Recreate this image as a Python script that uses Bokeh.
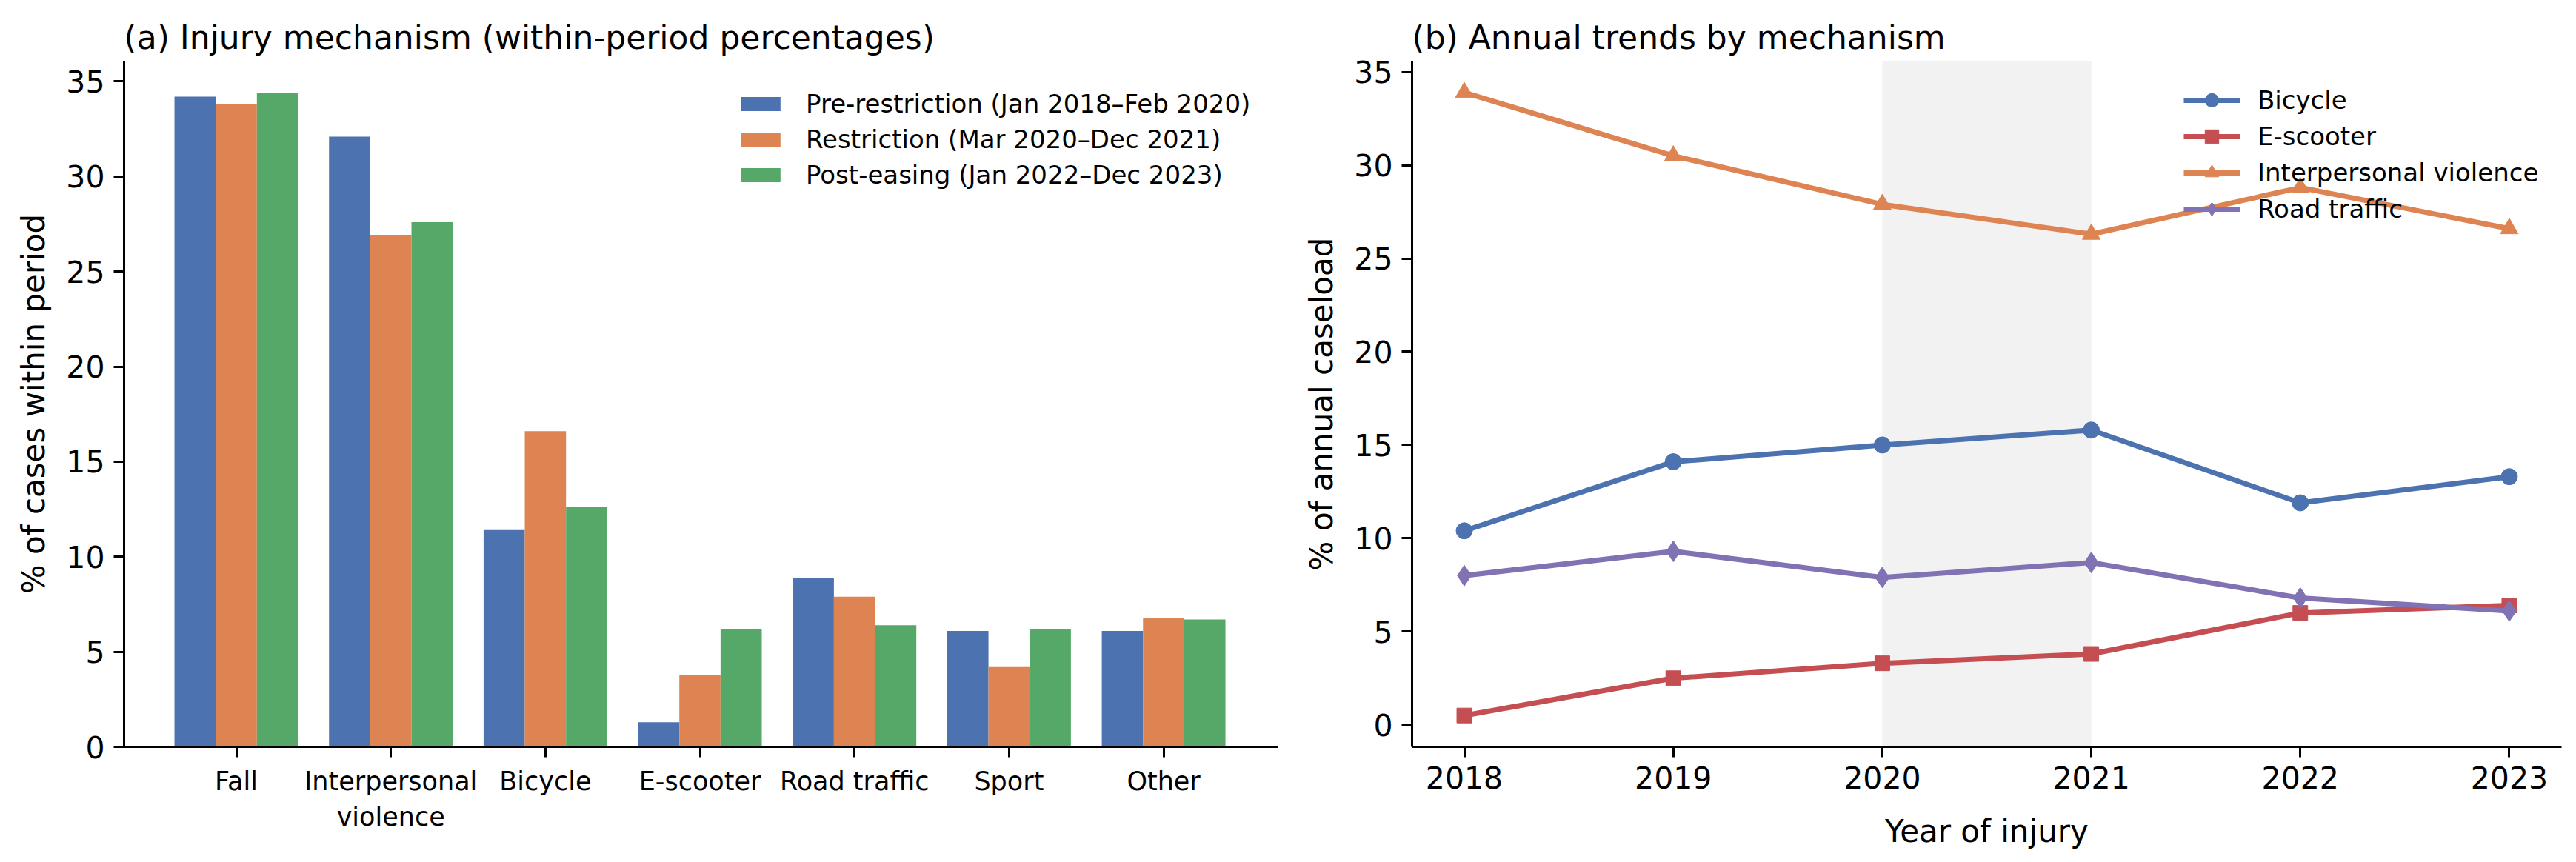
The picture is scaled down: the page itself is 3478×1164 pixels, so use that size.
from bokeh.plotting import figure
from bokeh.models import ColumnDataSource, Range1d, FixedTicker, BoxAnnotation
from bokeh.transform import dodge
from bokeh.layouts import row
from bokeh.embed import file_html
from bokeh.resources import INLINE

# panel (a): share of cases within each period (%)
mechanisms = ["Fall", "Interpersonal\nviolence", "Bicycle", "E-scooter", "Road traffic", "Sport", "Other"]
periods = ["Pre-restriction (Jan 2018–Feb 2020)",
           "Restriction (Mar 2020–Dec 2021)",
           "Post-easing (Jan 2022–Dec 2023)"]
pre_restriction = [34.2, 32.1, 11.4, 1.3, 8.9, 6.1, 6.1]
restriction = [33.8, 26.9, 16.6, 3.8, 7.9, 4.2, 6.8]
post_easing = [34.4, 27.6, 12.6, 6.2, 6.4, 6.2, 6.7]

# panel (b): share of annual caseload (%)
years = [2018, 2019, 2020, 2021, 2022, 2023]
bicycle = [10.4, 14.1, 15.0, 15.8, 11.9, 13.3]
e_scooter = [0.5, 2.5, 3.3, 3.8, 6.0, 6.4]
violence = [33.9, 30.5, 27.9, 26.3, 28.8, 26.6]
road_traffic = [8.0, 9.3, 7.9, 8.7, 6.8, 6.1]

y_ticks = [0, 5, 10, 15, 20, 25, 30, 35]

BLUE, ORANGE, GREEN, RED, PURPLE = "#4C72B0", "#DD8452", "#55A868", "#C44E52", "#8172B3"
FONT = "DejaVu Sans"


def style_axes(p):
    p.outline_line_color = None
    p.grid.grid_line_color = None
    p.title.text_font = FONT
    p.title.text_font_size = "44px"
    p.title.text_font_style = "normal"
    p.title.text_color = "black"
    p.title.standoff = 14
    for ax in (p.xaxis, p.yaxis):
        ax.axis_line_color = "black"
        ax.axis_line_width = 3
        ax.major_tick_line_width = 3
        ax.major_tick_line_color = "black"
        ax.major_tick_out = 14
        ax.major_tick_in = 0
        ax.minor_tick_line_color = None
        ax.major_label_text_font = FONT
        ax.major_label_text_font_size = "41px"
        ax.major_label_text_color = "black"
        ax.major_label_standoff = 12
        ax.axis_label_text_font = FONT
        ax.axis_label_text_font_size = "42px"
        ax.axis_label_text_font_style = "normal"
        ax.axis_label_text_color = "black"
        ax.axis_label_standoff = 16


def style_legend(lg, x, y, glyph_w, glyph_h, standoff, spacing):
    lg.location = (x, y)
    lg.background_fill_alpha = 0
    lg.border_line_color = None
    lg.label_text_font = FONT
    lg.label_text_font_size = "34px"
    lg.label_text_color = "black"
    lg.glyph_width = glyph_w
    lg.glyph_height = glyph_h
    lg.label_standoff = standoff
    lg.spacing = spacing
    lg.padding = 10


# ---- (a) grouped bars
pos = list(range(len(mechanisms)))
bar_w = 0.8 / 3
src = ColumnDataSource(dict(pos=pos, pre=pre_restriction, res=restriction, post=post_easing))

p1 = figure(
    frame_width=1558, frame_height=926,
    min_border_left=167, min_border_right=6, min_border_top=82, min_border_bottom=140,
    x_range=Range1d(-0.726, 6.74), y_range=Range1d(0, 36.07),
    title="(a) Injury mechanism (within-period percentages)",
    toolbar_location=None, tools="", output_backend="svg",
)
for field, off, color, label in [("pre", -bar_w, BLUE, periods[0]),
                                 ("res", 0, ORANGE, periods[1]),
                                 ("post", bar_w, GREEN, periods[2])]:
    p1.vbar(x=dodge("pos", off, range=p1.x_range), top=field, bottom=0, width=bar_w,
            source=src, fill_color=color, line_color=None, legend_label=label)

style_axes(p1)
p1.xaxis.ticker = FixedTicker(ticks=pos)
p1.xaxis.major_label_overrides = {i: m for i, m in enumerate(mechanisms)}
p1.xaxis.major_label_text_font_size = "35px"
p1.yaxis.ticker = FixedTicker(ticks=y_ticks)
p1.yaxis.axis_label = "% of cases within period"
style_legend(p1.legend, 826, 752, 67, 24, 28, 8)

# ---- (b) annual trend lines
src2 = ColumnDataSource(dict(year=years, bicycle=bicycle, e_scooter=e_scooter,
                             violence=violence, road=road_traffic))

p2 = figure(
    frame_width=1552, frame_height=926,
    min_border_left=175, min_border_right=4, min_border_top=82, min_border_bottom=140,
    x_range=Range1d(2017.75, 2023.25), y_range=Range1d(-1.18, 35.58),
    title="(b) Annual trends by mechanism",
    toolbar_location=None, tools="", output_backend="svg",
)
# restriction period shading
p2.add_layout(BoxAnnotation(left=2020, right=2021, fill_color="gray", fill_alpha=0.1,
                            line_color=None, level="underlay"))

for field, color, marker, size, label in [
        ("bicycle", BLUE, "circle", 22, "Bicycle"),
        ("e_scooter", RED, "square", 20, "E-scooter"),
        ("violence", ORANGE, "triangle", 24, "Interpersonal violence"),
        ("road", PURPLE, "diamond", 28, "Road traffic")]:
    p2.line("year", field, source=src2, line_color=color, line_width=7, legend_label=label)
    p2.scatter("year", field, source=src2, marker=marker, size=size,
               fill_color=color, line_color=color, legend_label=label)

style_axes(p2)
p2.xaxis.ticker = FixedTicker(ticks=years)
p2.yaxis.ticker = FixedTicker(ticks=y_ticks)
p2.xaxis.axis_label = "Year of injury"
p2.xaxis.axis_label_standoff = 30
p2.yaxis.axis_label = "% of annual caseload"
style_legend(p2.legend, 1042, 703, 76, 46, 24, 3)

layout = row(p1, p2)
open("out.html", "w").write(file_html(layout, INLINE))
